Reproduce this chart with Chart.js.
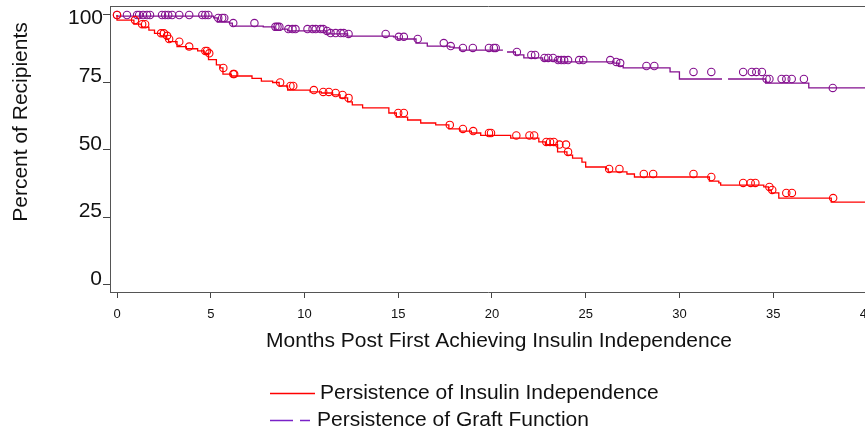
<!DOCTYPE html>
<html>
<head>
<meta charset="utf-8">
<script src="https://cdn.jsdelivr.net/npm/chart.js@4.4.1/dist/chart.umd.min.js"></script>
<style>
  html, body { margin: 0; padding: 0; background: #fff; overflow: hidden; }
  #wrap { width: 865px; height: 430px; overflow: hidden; }
</style>
</head>
<body>
<div id="wrap"><canvas id="km" width="872" height="430"></canvas></div>
<script>
// Kaplan-Meier: persistence of insulin independence / graft function

// axis ticks
const xTicks = [0, 5, 10, 15, 20, 25, 30, 35, 40];
const yTicks = [0, 25, 50, 75, 100];

// insulin independence (step points: month, percent)
const insulinTimes = [0, 0.9, 1.3, 1.7, 2.0, 2.3, 2.65, 2.75, 3.2, 3.7, 4.3, 4.65, 4.88, 5.3, 5.5, 5.65, 6.1, 7.2, 7.7, 8.3, 8.65, 9.1, 10.3, 10.9, 11.5, 11.9, 12.3, 12.55, 13.1, 14.5, 14.9, 15.5, 16.2, 17.0, 17.7, 18.3, 18.9, 19.4, 21.0, 22.5, 22.85, 23.5, 24.0, 24.3, 24.8, 25.0, 26.1, 26.2, 27.2, 27.6, 31.6, 32.1, 32.2, 34.5, 34.75, 34.9, 35.3, 38.1, 39.3, 40];
const insulinPct = [100, 98.1, 96.6, 95.5, 94.4, 93.2, 92.3, 91.1, 90.1, 88.3, 87.5, 86.7, 85.8, 83.5, 81.5, 80.4, 78.1, 77.4, 76.5, 75.5, 75.0, 73.7, 72.2, 71.5, 71.1, 70.4, 69.3, 67.8, 66.7, 65.6, 63.7, 62.2, 61.1, 60.0, 59.3, 57.8, 57.0, 56.3, 55.4, 54.4, 53.0, 52.0, 49.3, 48.1, 47.0, 45.5, 43.7, 43.0, 41.9, 41.1, 40.0, 38.5, 37.8, 37.0, 36.3, 35.2, 34.1, 32.2, 30.7, 30.7];

// insulin independence censored observations
const insulinCensorTimes = [0, 0.96, 1.34, 1.5, 2.35, 2.5, 2.67, 2.78, 3.32, 3.85, 4.71, 4.8, 4.92, 5.67, 6.2, 6.25, 8.7, 9.25, 9.4, 10.5, 11.0, 11.3, 11.66, 12.03, 12.35, 15.0, 15.3, 17.75, 18.45, 19.0, 19.84, 19.95, 21.3, 22.0, 22.25, 22.9, 23.1, 23.3, 23.6, 23.95, 24.06, 26.25, 26.8, 28.1, 28.6, 30.75, 31.7, 33.4, 33.8, 34.05, 34.8, 34.95, 35.7, 36.0, 38.2];
const insulinCensorPct = [100, 98.1, 96.6, 96.6, 93.2, 93.2, 92.3, 91.1, 90.1, 88.3, 86.7, 86.7, 85.8, 80.4, 78.1, 78.1, 75.0, 73.7, 73.7, 72.2, 71.5, 71.5, 71.1, 70.4, 69.3, 63.7, 63.7, 59.3, 57.8, 57.0, 56.3, 56.3, 55.4, 55.4, 55.4, 53.0, 53.0, 53.0, 52.0, 52.0, 49.3, 43.0, 43.0, 41.1, 41.1, 41.1, 40.0, 37.8, 37.8, 37.8, 36.3, 35.2, 34.1, 34.1, 32.2];

// graft function (step points)
const graftTimes = [0, 5.15, 5.35, 6.0, 6.15, 7.8, 8.4, 9.1, 11.15, 11.35, 12.3, 14.75, 14.95, 15.95, 16.55, 17.75, 17.95, 18.3, 20.6, 21.25, 21.7, 22.7, 23.45, 26.5, 26.75, 27.0, 29.5, 30.0, 34.6, 36.9, 38.15, 40];
const graftPct = [100, 99.6, 98.9, 97.4, 97.0, 95.9, 95.6, 94.8, 94.1, 93.3, 93.0, 92.2, 91.9, 91.1, 89.6, 88.5, 88.1, 87.8, 87.0, 86.3, 85.2, 84.1, 83.3, 82.6, 82.2, 81.1, 80.4, 78.9, 76.3, 74.8, 73.0, 73.0];

// graft function censored observations
const graftCensorTimes = [0, 0.53, 1.07, 1.18, 1.39, 1.6, 1.76, 2.4, 2.57, 2.73, 2.94, 3.32, 3.85, 4.55, 4.71, 4.87, 5.4, 5.61, 5.72, 6.2, 7.33, 8.45, 8.56, 8.66, 9.14, 9.36, 9.52, 10.16, 10.43, 10.6, 10.86, 11.0, 11.2, 11.39, 11.66, 11.93, 12.09, 12.35, 14.33, 15.03, 15.3, 16.04, 17.43, 17.8, 18.45, 18.98, 19.84, 20.1, 20.2, 21.33, 22.1, 22.3, 22.8, 23.0, 23.26, 23.53, 23.7, 23.85, 24.06, 24.65, 24.87, 26.31, 26.63, 26.84, 28.24, 28.66, 30.75, 31.7, 33.4, 33.86, 34.1, 34.4, 34.65, 34.8, 35.45, 35.7, 35.99, 36.64, 38.18];
const graftCensorPct = [100, 100, 100, 100, 100, 100, 100, 100, 100, 100, 100, 100, 100, 100, 100, 100, 98.9, 98.9, 98.9, 97.0, 97.0, 95.6, 95.6, 95.6, 94.8, 94.8, 94.8, 94.8, 94.8, 94.8, 94.8, 94.8, 94.1, 93.3, 93.3, 93.3, 93.3, 93.0, 93.0, 91.9, 91.9, 91.1, 89.6, 88.5, 87.8, 87.8, 87.8, 87.8, 87.8, 86.3, 85.2, 85.2, 84.1, 84.1, 84.1, 83.3, 83.3, 83.3, 83.3, 83.3, 83.3, 83.3, 82.6, 82.2, 81.1, 81.1, 78.9, 78.9, 78.9, 78.9, 78.9, 78.9, 76.3, 76.3, 76.3, 76.3, 76.3, 76.3, 73.0];

const insulinLabel = "Persistence of Insulin Independence";
const graftLabel = "Persistence of Graft Function";
const xTitle = "Months Post First Achieving Insulin Independence";
const yTitle = "Percent of Recipients";

const RED = "#ff0000";
const PURPLE = "#84108f";
const LEGEND_PURPLE = "#7a22c8";
const FONT = '"Liberation Sans", Arial, sans-serif';
const TOP_TICK = yTicks[yTicks.length - 1];

const toPoints = (xs, ys) => xs.map((x, i) => ({ x: x, y: ys[i] }));

// axis titles, legend, top tick label and the top frame line
const decorPlugin = {
    id: "decor",
    afterDraw(chart) {
        const ctx = chart.ctx;
        const area = chart.chartArea;
        ctx.save();

        ctx.strokeStyle = "#555";
        ctx.lineWidth = 1;
        ctx.beginPath();
        ctx.moveTo(area.left, area.top + 0.5);
        ctx.lineTo(area.right, area.top + 0.5);
        ctx.stroke();

        ctx.fillStyle = "#111";
        ctx.font = "21px " + FONT;
        ctx.textBaseline = "middle";

        // the top y label sits a little below its tick in the original
        ctx.textAlign = "right";
        ctx.fillText(String(TOP_TICK), 103, chart.scales.y.getPixelForValue(TOP_TICK) + 3);

        ctx.textAlign = "center";
        ctx.fillText(xTitle, 499, 341);

        ctx.save();
        ctx.translate(21, 122);
        ctx.rotate(-Math.PI / 2);
        ctx.fillText(yTitle, 0, 0);
        ctx.restore();

        // legend
        ctx.lineWidth = 1.3;
        ctx.strokeStyle = RED;
        ctx.beginPath();
        ctx.moveTo(270, 393.5);
        ctx.lineTo(315, 393.5);
        ctx.stroke();

        ctx.strokeStyle = LEGEND_PURPLE;
        ctx.beginPath();
        ctx.moveTo(270, 420.5);
        ctx.lineTo(293, 420.5);
        ctx.moveTo(300, 420.5);
        ctx.lineTo(310, 420.5);
        ctx.stroke();

        ctx.textAlign = "left";
        ctx.fillText(insulinLabel, 320, 393);
        ctx.fillText(graftLabel, 317, 420);

        ctx.restore();
    }
};

const ctx = document.getElementById("km").getContext("2d");
new Chart(ctx, {
    type: "scatter",
    data: {
        datasets: [
            {
                label: insulinLabel + " censored",
                data: toPoints(insulinCensorTimes, insulinCensorPct),
                showLine: false,
                pointStyle: "circle",
                pointRadius: 3.7,
                pointBorderWidth: 1.1,
                pointBorderColor: RED,
                pointBackgroundColor: "rgba(0,0,0,0)"
            },
            {
                label: graftLabel + " censored",
                data: toPoints(graftCensorTimes, graftCensorPct),
                showLine: false,
                pointStyle: "circle",
                pointRadius: 3.7,
                pointBorderWidth: 1.1,
                pointBorderColor: PURPLE,
                pointBackgroundColor: "rgba(0,0,0,0)"
            },
            {
                label: insulinLabel,
                data: toPoints(insulinTimes, insulinPct),
                showLine: true,
                stepped: "after",
                borderColor: RED,
                borderWidth: 1.3,
                pointRadius: 0,
                fill: false
            },
            {
                label: graftLabel,
                data: toPoints(graftTimes, graftPct),
                showLine: true,
                stepped: "after",
                borderColor: PURPLE,
                borderWidth: 1.3,
                borderDash: [242, 6],
                borderDashOffset: 69,
                pointRadius: 0,
                fill: false
            }
        ]
    },
    options: {
        responsive: false,
        devicePixelRatio: 1,
        animation: false,
        events: [],
        layout: { padding: { top: 6, left: 0, right: 0, bottom: 0 } },
        plugins: {
            legend: { display: false },
            tooltip: { enabled: false }
        },
        scales: {
            x: {
                type: "linear",
                min: -0.3746,
                max: 40,
                afterBuildTicks: (scale) => {
                    scale.ticks = xTicks.map((v) => ({ value: v }));
                },
                afterFit: (scale) => {
                    scale.height = 138;
                    scale.paddingLeft = 0;
                    scale.paddingRight = 0;
                },
                grid: { drawOnChartArea: false, drawTicks: true, tickLength: 6, color: "#444", lineWidth: 1 },
                border: { display: true, color: "#555", width: 1 },
                ticks: {
                    autoSkip: false,
                    maxRotation: 0,
                    padding: 9,
                    color: "#111",
                    font: { family: FONT, size: 13 }
                }
            },
            y: {
                type: "linear",
                min: -2.6,
                max: 103.33,
                afterBuildTicks: (scale) => {
                    scale.ticks = yTicks.map((v) => ({ value: v }));
                },
                afterFit: (scale) => {
                    scale.width = 110;
                    scale.paddingTop = 0;
                    scale.paddingBottom = 0;
                },
                grid: { drawOnChartArea: false, drawTicks: true, tickLength: 7, color: "#444", lineWidth: 1 },
                border: { display: true, color: "#555", width: 1 },
                ticks: {
                    autoSkip: false,
                    padding: 1,
                    labelOffset: -6,
                    color: "#111",
                    font: { family: FONT, size: 21 },
                    callback: (v) => (v === TOP_TICK ? "" : String(v))
                }
            }
        }
    },
    plugins: [decorPlugin]
});
</script>
</body>
</html>
